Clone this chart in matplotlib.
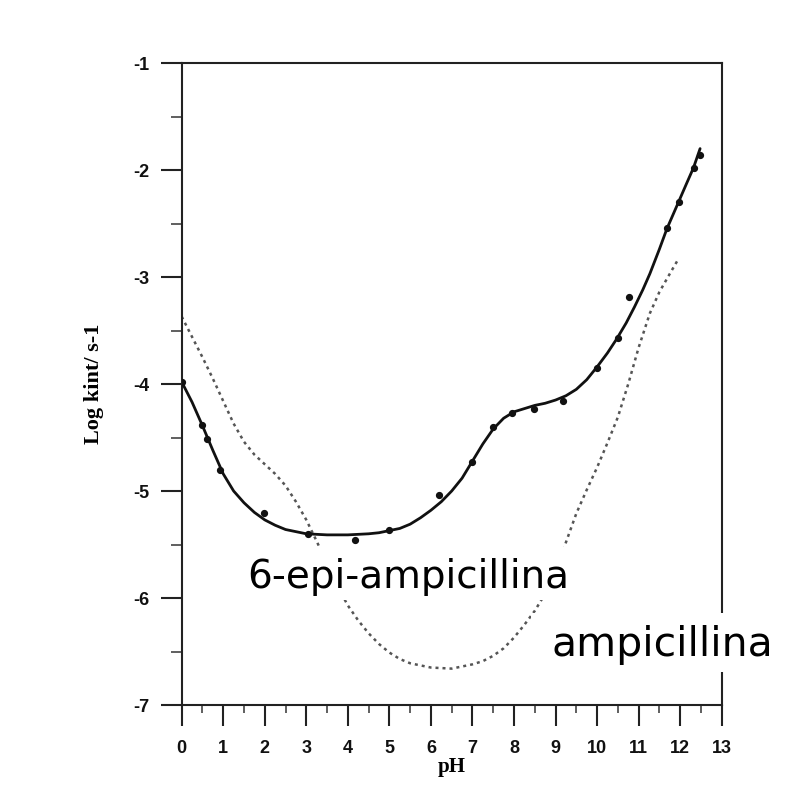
import matplotlib
matplotlib.use("Agg")
import matplotlib.pyplot as plt
from matplotlib import font_manager
from matplotlib.patches import Rectangle
from matplotlib.ticker import MultipleLocator

# ---- data ----
# fitted curve for 6-epi-ampicillin (solid)
fit_ph = [0.0, 0.25, 0.5, 0.75, 1.0, 1.25, 1.5, 1.75, 2.0, 2.25, 2.5, 2.75, 3.0,
          3.5, 4.0, 4.5, 4.75, 5.0, 5.25, 5.5, 5.75, 6.0, 6.25, 6.5, 6.75, 7.0,
          7.25, 7.5, 7.75, 8.0, 8.25, 8.5, 8.75, 9.0, 9.25, 9.5, 9.75, 10.0,
          10.25, 10.47, 10.7, 10.9, 11.1, 11.27, 11.5, 11.68, 11.96, 12.15,
          12.32, 12.48]
fit_logk = [-3.98, -4.17, -4.39, -4.62, -4.84, -5.00, -5.11, -5.20, -5.27, -5.32,
            -5.36, -5.38, -5.40, -5.41, -5.41, -5.40, -5.39, -5.37, -5.35, -5.31,
            -5.25, -5.18, -5.10, -5.00, -4.88, -4.72, -4.56, -4.42, -4.32, -4.26,
            -4.23, -4.20, -4.18, -4.15, -4.11, -4.05, -3.96, -3.84, -3.71, -3.58,
            -3.43, -3.28, -3.12, -2.97, -2.74, -2.55, -2.30, -2.13, -1.98, -1.80]

# measured points for 6-epi-ampicillin
obs_ph = [0.0, 0.48, 0.60, 0.92, 1.99, 3.05, 4.16, 5.00, 6.20, 6.98, 7.50, 7.94,
          8.47, 9.17, 9.99, 10.50, 10.77, 11.68, 11.96, 12.33, 12.48]
obs_logk = [-3.98, -4.38, -4.51, -4.80, -5.21, -5.40, -5.46, -5.36, -5.04, -4.73,
            -4.40, -4.27, -4.23, -4.16, -3.85, -3.57, -3.19, -2.54, -2.30, -1.98,
            -1.86]

# ampicillin profile (dotted)
amp_ph = [0.0, 0.25, 0.5, 0.75, 1.0, 1.25, 1.5, 1.75, 2.0, 2.25, 2.5, 2.75, 3.0,
          3.25, 3.5, 3.75, 4.0, 4.25, 4.5, 4.75, 5.0, 5.25, 5.5, 6.0, 6.5, 7.0,
          7.25, 7.5, 7.75, 8.0, 8.25, 8.5, 8.75, 9.0, 9.25, 9.5, 9.75, 10.0,
          10.25, 10.5, 10.75, 11.0, 11.27, 11.5, 11.75, 11.96]
amp_logk = [-3.37, -3.56, -3.75, -3.95, -4.16, -4.37, -4.54, -4.66, -4.75, -4.84,
            -4.95, -5.10, -5.27, -5.47, -5.68, -5.89, -6.07, -6.21, -6.33, -6.43,
            -6.51, -6.57, -6.61, -6.65, -6.66, -6.62, -6.59, -6.54, -6.47, -6.37,
            -6.25, -6.12, -5.96, -5.76, -5.48, -5.21, -4.99, -4.78, -4.55, -4.31,
            -4.00, -3.66, -3.34, -3.14, -2.97, -2.83]

x_ticks = list(range(0, 14))
y_ticks = [-7, -6, -5, -4, -3, -2, -1]
x_label = "pH"
y_label = "Log kint/ s-1"
label_epi = "6-epi-ampicillina"
label_amp = "ampicillina"

# ---- fonts ----
names = {f.name for f in font_manager.fontManager.ttflist}
tick_font = "Liberation Sans Narrow" if "Liberation Sans Narrow" in names else "Liberation Sans"
serif_font = "Liberation Serif" if "Liberation Serif" in names else "DejaVu Serif"

W, H = 788, 785
fig = plt.figure(figsize=(W / 100, H / 100), dpi=100)
L, R, T, B = 181.7, 721.7, 63.0, 705.0
ax = fig.add_axes([L / W, 1 - B / H, (R - L) / W, (B - T) / H])

ax.plot(fit_ph, fit_logk, color="#111111", lw=2.0, solid_capstyle="round",
        solid_joinstyle="round", zorder=3)
ax.plot(obs_ph, obs_logk, "o", color="#111111", ms=4.2, zorder=4)
ax.plot(amp_ph, amp_logk, color="#555555", lw=1.8, linestyle=(0, (1.2, 1.6)),
        zorder=2)

ax.set_xlim(0, 13)
ax.set_ylim(-7, -1)
ax.set_xticks(x_ticks)
ax.set_yticks(y_ticks)
ax.xaxis.set_minor_locator(MultipleLocator(0.5))
ax.yaxis.set_minor_locator(MultipleLocator(0.5))
ax.set_xticklabels([str(v) for v in x_ticks])
ax.set_yticklabels([str(v) for v in y_ticks])

ax.tick_params(axis="both", which="major", direction="out", length=15, width=1.5,
               color="#222222")
ax.tick_params(axis="x", which="minor", direction="out", length=6, width=1.2,
               color="#444444")
ax.tick_params(axis="y", which="minor", direction="out", length=8, width=1.2,
               color="#444444")
ax.tick_params(axis="x", which="major", pad=10)
ax.tick_params(axis="y", which="major", pad=8)
for lab in ax.get_xticklabels() + ax.get_yticklabels():
    lab.set_fontfamily(tick_font)
    lab.set_fontweight("bold")
    lab.set_fontsize(13)
    lab.set_color("#111111")

for s in ax.spines.values():
    s.set_linewidth(1.5)
    s.set_color("#222222")

ax.set_xlabel(x_label, fontfamily=serif_font, fontweight="bold", fontsize=15,
              labelpad=0)
ax.set_ylabel(y_label, fontfamily=serif_font, fontweight="bold", fontsize=16)
ax.yaxis.set_label_coords((104 - L) / (R - L), 0.5)

# white label boxes with text
def box(x0, y0, x1, y1):
    fig.add_artist(Rectangle((x0 / W, 1 - y1 / H), (x1 - x0) / W, (y1 - y0) / H,
                             transform=fig.transFigure, facecolor="white",
                             edgecolor="none", zorder=10))

box(223, 547, 587, 600)
box(531, 613, 788, 672)
fig.text(247 / W, 1 - 588 / H, label_epi, fontsize=28, ha="left", va="baseline",
         family="DejaVu Sans", zorder=11)
fig.text(551 / W, 1 - 656 / H, label_amp, fontsize=29.5, ha="left", va="baseline",
         family="DejaVu Sans", zorder=11)

fig.savefig("out.png", dpi=100, facecolor="white")
